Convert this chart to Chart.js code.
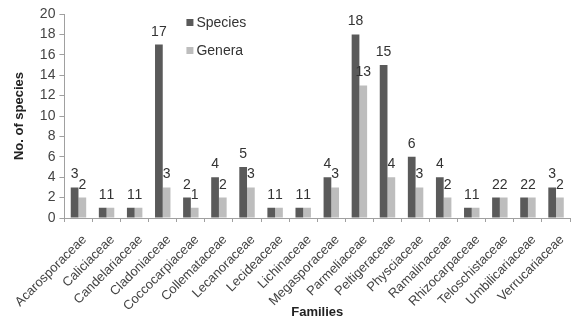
<!DOCTYPE html>
<html>
<head>
<meta charset="utf-8">
<script src="https://cdn.jsdelivr.net/npm/chart.js@4.4.1/dist/chart.umd.min.js"></script>
<style>
  html, body { margin: 0; padding: 0; background: #fff; }
  #wrap { width: 577px; height: 320px; }
</style>
</head>
<body>
<div id="wrap"><canvas id="chart" width="577" height="320"></canvas></div>
<script>
// data
const families = ['Acarosporaceae', 'Caliciaceae', 'Candelariaceae', 'Cladoniaceae', 'Coccocarpiaceae',
  'Collemataceae', 'Lecanoraceae', 'Lecideaceae', 'Lichinaceae', 'Megasporaceae', 'Parmeliaceae',
  'Peltigeraceae', 'Physciaceae', 'Ramalinaceae', 'Rhizocarpaceae', 'Teloschistaceae',
  'Umbilicariaceae', 'Verrucariaceae'];
const species = [3, 1, 1, 17, 2, 4, 5, 1, 1, 4, 18, 15, 6, 4, 1, 2, 2, 3];
const genera  = [2, 1, 1, 3, 1, 2, 3, 1, 1, 3, 13, 4, 3, 2, 1, 2, 2, 2];
const yTicks = [0, 2, 4, 6, 8, 10, 12, 14, 16, 18, 20];

const FONT = "'Liberation Sans', Arial, sans-serif";

// numbers above each bar
const valueLabels = {
  id: 'valueLabels',
  afterDatasetsDraw(chart) {
    const ctx = chart.ctx;
    ctx.save();
    ctx.font = '14px ' + FONT;
    ctx.fillStyle = '#333';
    ctx.textAlign = 'center';
    ctx.textBaseline = 'alphabetic';
    chart.data.datasets.forEach((ds, i) => {
      chart.getDatasetMeta(i).data.forEach((bar, j) => {
        ctx.fillText(ds.data[j], bar.x, bar.y - 9);
      });
    });
    ctx.restore();
  }
};

// legend sitting inside the plot, stacked
const innerLegend = {
  id: 'innerLegend',
  afterDraw(chart) {
    const ctx = chart.ctx;
    const x = chart.chartArea.left + 122;
    let y = chart.chartArea.top + 8;
    ctx.save();
    ctx.font = '14px ' + FONT;
    ctx.textBaseline = 'middle';
    chart.data.datasets.forEach(ds => {
      ctx.fillStyle = ds.backgroundColor;
      ctx.fillRect(x, y - 3, 7, 7);
      ctx.fillStyle = '#333';
      ctx.fillText(ds.label, x + 10, y + 1);
      y += 28;
    });
    ctx.restore();
  }
};

new Chart(document.getElementById('chart'), {
  type: 'bar',
  data: {
    labels: families,
    datasets: [
      { label: 'Species', data: species, backgroundColor: '#5a5a5a' },
      { label: 'Genera', data: genera, backgroundColor: '#bdbdbd' }
    ]
  },
  options: {
    responsive: false,
    animation: false,
    layout: { padding: { top: 14, right: 0, left: 0, bottom: 0 } },
    datasets: { bar: { categoryPercentage: 0.55, barPercentage: 1.0 } },
    plugins: {
      legend: { display: false },
      tooltip: { enabled: false }
    },
    scales: {
      x: {
        offset: true,
        afterFit(axis) { axis.height = 102; },
        grid: { offset: true, drawOnChartArea: false, drawTicks: true, tickLength: 4, color: '#a0a0a0' },
        border: { color: '#a0a0a0' },
        ticks: { maxRotation: 45, minRotation: 45, autoSkip: false, color: '#444', font: { family: FONT, size: 13 }, padding: 10, labelOffset: 6 },
        title: { display: true, text: 'Families', color: '#222', font: { family: FONT, size: 13, weight: 'bold' }, padding: { top: 0, bottom: 0 } }
      },
      y: {
        min: 0,
        max: 20,
        afterFit(axis) { axis.width = 62; },
        afterBuildTicks(axis) { axis.ticks = yTicks.map(v => ({ value: v })); },
        grid: { drawOnChartArea: false, drawTicks: true, tickLength: 5, color: '#a0a0a0' },
        border: { color: '#a0a0a0' },
        ticks: { color: '#444', font: { family: FONT, size: 14 }, padding: 4 },
        title: { display: true, text: 'No. of species', color: '#222', font: { family: FONT, size: 13, weight: 'bold' }, padding: { top: 9, bottom: 0 } }
      }
    }
  },
  plugins: [valueLabels, innerLegend]
});
</script>
</body>
</html>
